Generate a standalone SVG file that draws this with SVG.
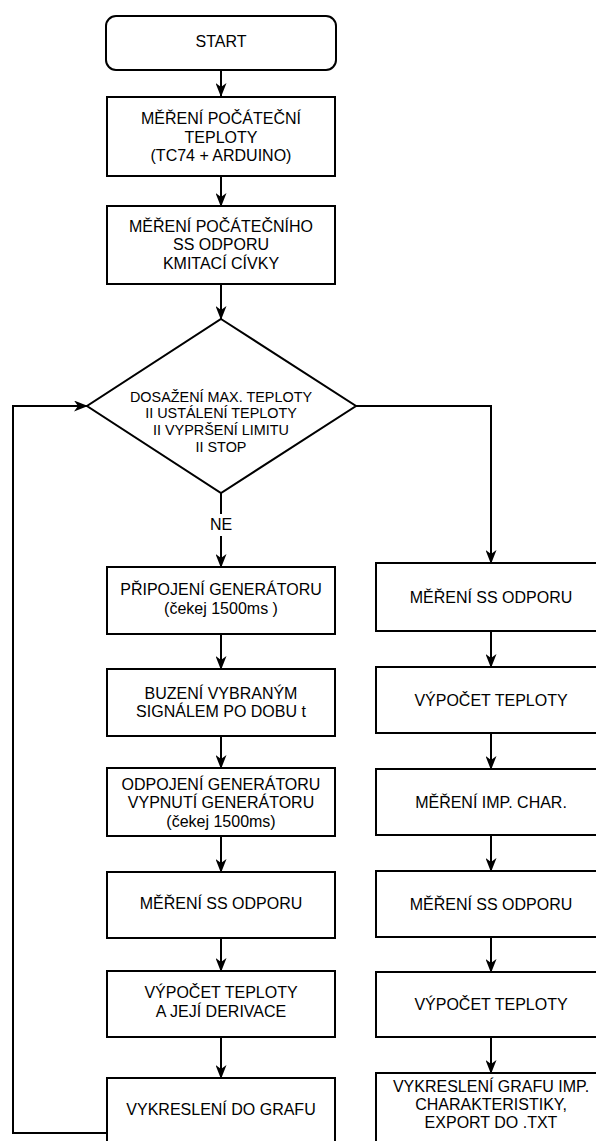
<svg xmlns="http://www.w3.org/2000/svg" width="596" height="1141" viewBox="0 0 596 1141">
  <defs>
    <style>
      .box { fill: #ffffff; stroke: #000000; stroke-width: 2; }
      .line { fill: none; stroke: #000000; stroke-width: 2; marker-end: url(#arrow); }
      .plain { fill: none; stroke: #000000; stroke-width: 2; }
      text { font-family: "Liberation Sans", Arial, Helvetica, sans-serif; font-size: 16px; fill: #000000; text-anchor: middle; }
      .small { font-size: 14.4px; }
    </style>
    <marker id="arrow" viewBox="0 0 14 11" refX="13" refY="5.5" markerWidth="14" markerHeight="11" markerUnits="userSpaceOnUse" orient="auto">
      <path d="M14,5.5 L0,0 L4,5.5 L0,11 Z" fill="#000000"/>
    </marker>
  </defs>
  <rect width="596" height="1141" fill="#ffffff"/>

  <!-- connectors -->
  <g id="connectors">
    <line class="line" x1="221" y1="70" x2="221" y2="96"/>
    <line class="line" x1="221" y1="176" x2="221" y2="206"/>
    <line class="line" x1="221" y1="284" x2="221" y2="319"/>
    <line class="line" x1="221" y1="493" x2="221" y2="567"/>
    <line class="line" x1="221" y1="634" x2="221" y2="669"/>
    <line class="line" x1="221" y1="736" x2="221" y2="768"/>
    <line class="line" x1="221" y1="836" x2="221" y2="872"/>
    <line class="line" x1="221" y1="938" x2="221" y2="971"/>
    <line class="line" x1="221" y1="1037" x2="221" y2="1078"/>
    <path class="line" d="M107,1133 H13 V406 H87"/>
    <path class="line" d="M356,406 H491 V563"/>
    <line class="line" x1="491" y1="631" x2="491" y2="667"/>
    <line class="line" x1="491" y1="733" x2="491" y2="769"/>
    <line class="line" x1="491" y1="835" x2="491" y2="871"/>
    <line class="line" x1="491" y1="937" x2="491" y2="972"/>
    <line class="line" x1="491" y1="1037" x2="491" y2="1073"/>
    <!-- branch label -->
    <rect x="206" y="514" width="30" height="22" fill="#ffffff"/>
    <text x="221" y="530">NE</text>
  </g>

  <g id="start">
    <rect class="box" x="106" y="16" width="230" height="54" rx="10" ry="10"/>
    <text x="221" y="47">START</text>
  </g>

  <g id="init-temp">
    <rect class="box" x="107" y="97" width="228" height="79"/>
    <text x="221" y="124">MĚŘENÍ POČÁTEČNÍ</text>
    <text x="221" y="142.5">TEPLOTY</text>
    <text x="221" y="161">(TC74 + ARDUINO)</text>
  </g>

  <g id="init-resistance">
    <rect class="box" x="107" y="206" width="228" height="78"/>
    <text x="221" y="232">MĚŘENÍ POČÁTEČNÍHO</text>
    <text x="221" y="250">SS ODPORU</text>
    <text x="221" y="268.5">KMITACÍ CÍVKY</text>
  </g>

  <g id="decision">
    <polygon class="box" points="221,319 356,406 221,493 87,406"/>
    <text class="small" x="221" y="401.5">DOSAŽENÍ MAX. TEPLOTY</text>
    <text class="small" x="221" y="418.3">II USTÁLENÍ TEPLOTY</text>
    <text class="small" x="221" y="435">II VYPRŠENÍ LIMITU</text>
    <text class="small" x="221" y="451.7">II STOP</text>
  </g>

  <!-- loop column -->
  <g id="connect-generator">
    <rect class="box" x="107" y="567" width="228" height="67"/>
    <text x="221" y="595">PŘIPOJENÍ GENERÁTORU</text>
    <text x="221" y="614">(čekej 1500ms )</text>
  </g>

  <g id="excite">
    <rect class="box" x="107" y="669" width="228" height="67"/>
    <text x="221" y="698.5">BUZENÍ VYBRANÝM</text>
    <text x="221" y="717">SIGNÁLEM PO DOBU t</text>
  </g>

  <g id="disconnect-generator">
    <rect class="box" x="107" y="768" width="228" height="68"/>
    <text x="221" y="789.5">ODPOJENÍ GENERÁTORU</text>
    <text x="221" y="808.3">VYPNUTÍ GENERÁTORU</text>
    <text x="221" y="827">(čekej 1500ms)</text>
  </g>

  <g id="measure-resistance-loop">
    <rect class="box" x="107" y="872" width="228" height="66"/>
    <text x="221" y="908.5">MĚŘENÍ SS ODPORU</text>
  </g>

  <g id="compute-temp-loop">
    <rect class="box" x="107" y="971" width="228" height="66"/>
    <text x="221" y="997.5">VÝPOČET TEPLOTY</text>
    <text x="221" y="1016.7">A JEJÍ DERIVACE</text>
  </g>

  <g id="plot-loop">
    <rect class="box" x="107" y="1078" width="228" height="80"/>
    <text x="221" y="1115">VYKRESLENÍ DO GRAFU</text>
  </g>

  <!-- final column -->
  <g id="measure-resistance-1">
    <rect class="box" x="376" y="563" width="230" height="68"/>
    <text x="491" y="602.5">MĚŘENÍ SS ODPORU</text>
  </g>

  <g id="compute-temp-1">
    <rect class="box" x="376" y="667" width="230" height="66"/>
    <text x="491" y="705.5">VÝPOČET TEPLOTY</text>
  </g>

  <g id="measure-impedance">
    <rect class="box" x="376" y="769" width="230" height="66"/>
    <text x="491" y="807.5">MĚŘENÍ IMP. CHAR.</text>
  </g>

  <g id="measure-resistance-2">
    <rect class="box" x="376" y="871" width="230" height="66"/>
    <text x="491" y="909.5">MĚŘENÍ SS ODPORU</text>
  </g>

  <g id="compute-temp-2">
    <rect class="box" x="376" y="972" width="230" height="65"/>
    <text x="491" y="1010">VÝPOČET TEPLOTY</text>
  </g>

  <g id="plot-export">
    <rect class="box" x="376" y="1073" width="230" height="85"/>
    <text x="491" y="1091.7">VYKRESLENÍ GRAFU IMP.</text>
    <text x="491" y="1110">CHARAKTERISTIKY,</text>
    <text x="491" y="1128.3">EXPORT DO .TXT</text>
  </g>
</svg>
